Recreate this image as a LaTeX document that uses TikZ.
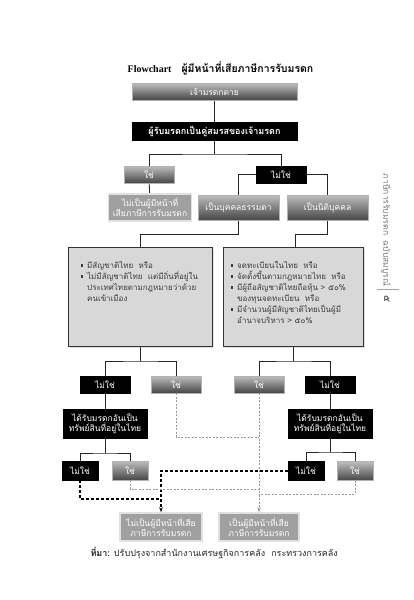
\documentclass[tikz,border=0pt]{standalone}
\usepackage{fontspec}
\newfontfamily\thai[Script=Thai]{Loma}
\newfontfamily\latser{Liberation Serif}
\usetikzlibrary{backgrounds,arrows.meta,shadows}
\definecolor{bigfill}{RGB}{216,216,216}
\definecolor{bigtext}{RGB}{60,60,60}
\definecolor{litefill}{RGB}{160,160,160}
\definecolor{liteedge}{RGB}{225,225,225}
\definecolor{gtop}{RGB}{190,190,190}
\definecolor{gbot}{RGB}{70,70,70}
\definecolor{sidegray}{RGB}{120,120,120}
\newcommand\sqbul{\makebox[6pt][l]{\rule[0.22em]{2.2pt}{2.2pt}}}
\begin{document}
\begin{tikzpicture}[x=1pt,y=-1pt,
  base/.style={inner sep=1pt, align=center, text=white, font=\thai\fontsize{8.5}{10}\selectfont},
  graybox/.style={base, top color=gtop, bottom color=gbot, draw=gray!60, line width=0.3pt},
  blackbox/.style={base, fill=black, draw=black},
  litebox/.style={base, fill=litefill, draw=liteedge, line width=1.5pt},
  bigbox/.style={fill=bigfill, draw=black!80, line width=0.8pt, drop shadow={opacity=0.25, shadow xshift=1.5pt, shadow yshift=-1.5pt}},
  bigtxt/.style={anchor=north west, inner sep=0pt, align=left, text=bigtext, font=\thai\fontsize{8}{11}\selectfont},
  conn/.style={draw=black!85, line width=0.8pt},
  blkdash/.style={draw=black, line width=1.2pt, dash pattern=on 3pt off 2pt},
  grydash/.style={draw=gray!80, line width=0.6pt, dash pattern=on 2pt off 1.5pt},
  tip/.style={-{Stealth[length=5pt,width=3.5pt]}}
]
\useasboundingbox (0,0) rectangle (414,600);

% title
\node (title) at (220.5,68) {\latser\bfseries\fontsize{10}{12}\selectfont Flowchart\quad\thai\bfseries\fontsize{10.5}{12}\selectfont ผู้มีหน้าที่เสียภาษีการรับมรดก};

% top boxes
\node[graybox, minimum width=165pt, minimum height=17pt] (n1) at (214.5,91.5) {เจ้ามรดกตาย};
\node[blackbox, minimum width=165pt, minimum height=18pt, font=\thai\bfseries\fontsize{9}{10}\selectfont] (n2) at (214.5,131) {ผู้รับมรดกเป็นคู่สมรสของเจ้ามรดก};

\node[graybox, minimum width=50pt, minimum height=17pt] (yes1) at (149,174.5) {ใช่};
\node[blackbox, minimum width=50pt, minimum height=17pt] (no1) at (281,174.5) {ไม่ใช่};

\node[litebox, minimum width=83pt, minimum height=27pt] (r1) at (150,207.5) {ไม่เป็นผู้มีหน้าที่\\เสียภาษีการรับมรดก};
\node[graybox, minimum width=81pt, minimum height=25pt] (p1) at (238.5,207.5) {เป็นบุคคลธรรมดา};
\node[graybox, minimum width=81pt, minimum height=25pt] (p2) at (327.5,207.5) {เป็นนิติบุคคล};

% big boxes
\node[bigbox, minimum width=144pt, minimum height=99pt] (big1) at (140,296.5) {};
\node[bigbox, minimum width=140pt, minimum height=99pt] (big2) at (293,296.5) {};
\node[bigtxt] (big1t) at (81,261) {\sqbul มีสัญชาติไทย\ \ หรือ\\
\sqbul ไม่มีสัญชาติไทย\ \ แต่มีถิ่นที่อยู่ใน\\
\hspace*{6pt}ประเทศไทยตามกฎหมายว่าด้วย\\
\hspace*{6pt}คนเข้าเมือง};
\node[bigtxt] (big2t) at (231,261) {\sqbul จดทะเบียนในไทย\ \ หรือ\\
\sqbul จัดตั้งขึ้นตามกฎหมายไทย\ \ หรือ\\
\sqbul มีผู้ถือสัญชาติไทยถือหุ้น > ๕๐\%\\
\hspace*{6pt}ของทุนจดทะเบียน\ \ หรือ\\
\sqbul มีจำนวนผู้มีสัญชาติไทยเป็นผู้มี\\
\hspace*{6pt}อำนาจบริหาร > ๕๐\%};

% second level yes/no
\node[blackbox, minimum width=50pt, minimum height=17pt] (la) at (105,384.5) {ไม่ใช่};
\node[graybox, minimum width=50pt, minimum height=17pt] (lb) at (176,384.5) {ใช่};
\node[graybox, minimum width=50pt, minimum height=17pt] (ra) at (259,384.5) {ใช่};
\node[blackbox, minimum width=50pt, minimum height=17pt] (rb) at (330,384.5) {ไม่ใช่};

\node[blackbox, minimum width=84pt, minimum height=29pt] (lbox) at (105,423.5) {ได้รับมรดกอันเป็น\\ทรัพย์สินที่อยู่ในไทย};
\node[blackbox, minimum width=84pt, minimum height=29pt] (rbox) at (330,423.5) {ได้รับมรดกอันเป็น\\ทรัพย์สินที่อยู่ในไทย};

\node[blackbox, minimum width=36pt, minimum height=19pt] (lc) at (80,470.5) {ไม่ใช่};
\node[graybox, minimum width=36pt, minimum height=19pt] (ld) at (130,470.5) {ใช่};
\node[blackbox, minimum width=36pt, minimum height=19pt] (rc) at (306,471) {ไม่ใช่};
\node[graybox, minimum width=36pt, minimum height=19pt] (rd) at (355,471) {ใช่};

\node[litebox, minimum width=82pt, minimum height=28pt] (out1) at (161,527) {ไม่เป็นผู้มีหน้าที่เสีย\\ภาษีการรับมรดก};
\node[litebox, minimum width=80pt, minimum height=28pt] (out2) at (259,527) {เป็นผู้มีหน้าที่เสีย\\ภาษีการรับมรดก};

% side text
\node[rotate=-90, text=sidegray, font=\thai\fontsize{8.5}{10}\selectfont] (side) at (386,230) {ภาษีการรับมรดก\ \ ฉบับสมบูรณ์};
\coordinate (sl1) at (377,289);
\coordinate (sl2) at (399,289);
\draw[sidegray!70, line width=0.8pt] (sl1) -- (sl2);
\node[rotate=-90, text=black!70, font=\thai\bfseries\fontsize{9}{10}\selectfont] (pg) at (387,299) {๕};

% source
\node[anchor=west, text=black!85, font=\thai\fontsize{9}{11}\selectfont] (src) at (87,553) {\textbf{ที่มา:} ปรับปรุงจากสำนักงานเศรษฐกิจการคลัง\ \ กระทรวงการคลัง};

% junction coordinates
\coordinate (j1) at (214.5,154);
\coordinate (j2) at (281,174.5);
\coordinate (j3) at (238.5,234);
\coordinate (j4) at (327.5,234);
\coordinate (j5) at (140,361);
\coordinate (j6) at (293,361);
\coordinate (j7) at (105,453);
\coordinate (j8) at (330,452);
\coordinate (dl) at (161,499);
\coordinate (g1) at (259,437);
\coordinate (g2) at (259,489);
\coordinate (g3) at (259,494);

\begin{pgfonlayer}{background}
\draw[conn] (n1) -- (n2);
\draw[conn] (n2.south) -- (j1);
\draw[conn] (yes1.north) |- (j1) -| (no1.north);
\draw[conn] (yes1) -- (r1);
\draw[conn] (p1.north) |- (j2) -| (p2.north);
\draw[conn] (p1.south) -- (j3) -| (big1.north);
\draw[conn] (p2.south) -- (j4) -| ([xshift=2pt]big2.north);
\draw[conn] (big1.south) -- (j5);
\draw[conn] (la.north) |- (j5) -| (lb.north);
\draw[conn] (big2.south) -- (j6);
\draw[conn] (ra.north) |- (j6) -| (rb.north);
\draw[conn] (la) -- (lbox);
\draw[conn] (rb) -- (rbox);
\draw[conn] (lbox.south) -- (j7);
\draw[conn] (lc.north) |- (j7) -| (ld.north);
\draw[conn] (rbox.south) -- (j8);
\draw[conn] (rc.north) |- (j8) -| (rd.north);
\end{pgfonlayer}

% dashed connectors
\draw[blkdash] (lc.south) |- (dl);
\draw[blkdash, tip] (rc.west) -| (out1.north);
\draw[grydash] (lb.south) |- (g1);
\draw[grydash, tip] (ra.south) -- (out2.north);
\draw[grydash] (ld.south) |- (g2);
\draw[grydash] (rd.south) |- (g3);
\end{tikzpicture}
\end{document}
